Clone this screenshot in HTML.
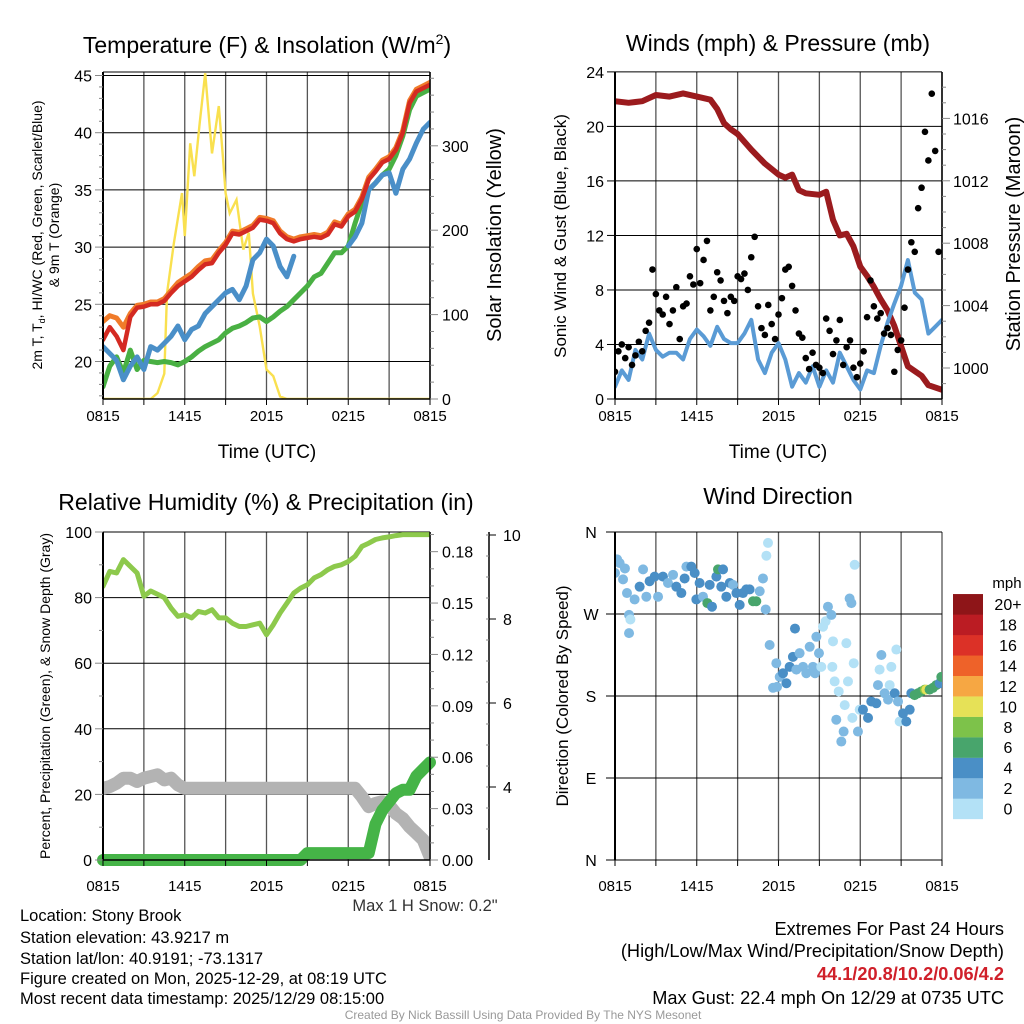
<!DOCTYPE html>
<html><head><meta charset="utf-8"><style>
body{margin:0;background:#fff;}
svg{display:block;font-family:"Liberation Sans",sans-serif;}
</style></head><body>
<svg id="chart" width="1024" height="1024" viewBox="0 0 1024 1024" xmlns="http://www.w3.org/2000/svg">
<defs>
<clipPath id="c1"><rect x="103" y="72" width="327" height="327"/></clipPath>
<clipPath id="c2"><rect x="615" y="72" width="327" height="327"/></clipPath>
<clipPath id="c3"><rect x="103" y="532" width="327" height="328"/></clipPath>
<clipPath id="c4"><rect x="615" y="532" width="327" height="328"/></clipPath>
</defs>
<rect width="1024" height="1024" fill="#fff"/>
<text x="267" y="53" font-size="23" text-anchor="middle">Temperature (F) &amp; Insolation (W/m<tspan font-size="14" dy="-9">2</tspan><tspan dy="9">)</tspan></text>
<text x="778" y="51" font-size="23" text-anchor="middle">Winds (mph) &amp; Pressure (mb)</text>
<text x="266" y="510" font-size="23" text-anchor="middle">Relative Humidity (%) &amp; Precipitation (in)</text>
<text x="778" y="504" font-size="23" text-anchor="middle">Wind Direction</text>
<text x="267" y="458" font-size="19" text-anchor="middle">Time (UTC)</text>
<text x="778" y="458" font-size="19" text-anchor="middle">Time (UTC)</text>
<text transform="translate(42,235) rotate(-90)" font-size="14" text-anchor="middle">2m T, T<tspan font-size="9" dy="3">d</tspan><tspan dy="-3">, HI/WC (Red, Green, Scarlet/Blue)</tspan></text>
<text transform="translate(59,235) rotate(-90)" font-size="14" text-anchor="middle">&amp; 9m T (Orange)</text>
<text transform="translate(501,235) rotate(-90)" font-size="20" text-anchor="middle">Solar Insolation (Yellow)</text>
<text transform="translate(566,236) rotate(-90)" font-size="17" text-anchor="middle">Sonic Wind &amp; Gust (Blue, Black)</text>
<text transform="translate(1020,234) rotate(-90)" font-size="20" text-anchor="middle">Station Pressure (Maroon)</text>
<text transform="translate(50,696) rotate(-90)" font-size="14" text-anchor="middle">Percent, Precipitation (Green), &amp; Snow Depth (Gray)</text>
<text transform="translate(568,696) rotate(-90)" font-size="17" text-anchor="middle">Direction (Colored By Speed)</text>
<g font-size="16.5">
<text x="20" y="921">Location: Stony Brook</text>
<text x="20" y="943">Station elevation: 43.9217 m</text>
<text x="20" y="964">Station lat/lon: 40.9191; -73.1317</text>
<text x="20" y="984">Figure created on Mon, 2025-12-29, at 08:19 UTC</text>
<text x="20" y="1004">Most recent data timestamp: 2025/12/29 08:15:00</text>
<text x="425" y="911" text-anchor="middle" fill="#333">Max 1 H Snow: 0.2"</text>
</g>
<g font-size="18.2">
<text x="1004" y="935" text-anchor="end">Extremes For Past 24 Hours</text>
<text x="1004" y="957" text-anchor="end">(High/Low/Max Wind/Precipitation/Snow Depth)</text>
<text x="1004" y="980" text-anchor="end" fill="#d0202a" font-weight="bold">44.1/20.8/10.2/0.06/4.2</text>
<text x="1004" y="1004" text-anchor="end">Max Gust: 22.4 mph On 12/29 at 0735 UTC</text>
</g>
<text x="523" y="1019" text-anchor="middle" font-size="12" fill="#999">Created By Nick Bassill Using Data Provided By The NYS Mesonet</text>
</svg>
<script>
// ---- Panel 1 data (half-hour steps from 0815 UTC) ----
const tempRed = [21.9,23,22.2,21,23.9,24.7,24.8,25,25,25.3,26,26.6,27,27.4,28,28.5,28.6,29.5,30.2,31.2,31.1,31.4,31.7,32.4,32.3,32.1,31.2,30.7,30.5,30.7,30.8,30.9,30.8,31.1,32,31.8,32.7,33.1,34.2,35.9,36.6,37.4,37.7,38.5,40,42.6,43.6,43.9,44.2];
const tempOrange = [23.5,24,23.8,23,24.2,24.9,25,25.2,25.2,25.5,26.2,26.9,27.3,27.7,28.3,28.8,28.9,29.7,30.4,31.4,31.3,31.6,31.9,32.6,32.5,32.3,31.4,30.9,30.7,30.9,31,31.1,31,31.3,32.2,32,32.9,33.3,34.4,36.1,36.8,37.6,37.9,38.7,40.2,42.8,43.8,44.1,44.4];
const tempGreen = [17.8,19.6,20.4,19,21,19.3,20.1,20,19.9,20,19.9,19.7,20,20.4,20.9,21.3,21.6,21.9,22.5,22.9,23.1,23.4,23.8,23.9,23.5,23.9,24.4,24.8,25.4,26,26.6,27.4,27.7,28.6,29.5,29.5,30.1,32.1,33.9,35,35.6,36.3,36.8,38,39.7,42,43.2,43.5,43.8];
const tempBlue = [21.3,20.7,20.1,18.4,19.6,20.4,19.3,21.3,21,21.6,22.2,23.1,21.9,22.8,23.1,24.2,24.8,25.4,26,26.3,25.4,26.6,28.9,29.5,30.7,30.1,28.3,27.4,29.2,null,null,28.8,null,29.8,null,null,30.1,30.9,32.1,35,35.6,36.3,36.5,34.7,36.8,37.7,39.1,40.3,40.9];
const solarHours = [0,3.5,4,4.5,4.7,5.2,5.8,6,6.4,6.7,7.1,7.5,8,8.5,8.8,9,9.3,9.8,10.3,10.7,11,11.5,12,12.5,13,13.5,24];
const solarValues = [0,0,7,30,125,185,244,193,303,264,327,386,291,347,287,244,220,236,177,197,125,86,35,27,3,0,0];
// ---- Panel 2 data ----
const pressHours = [0,1,2,3,4,5,6,7,7.5,8,8.5,9,10,11,12,12.5,13,13.5,14,15,15.5,16,16.5,17,17.5,18,18.5,19,19.5,20,20.5,21,21.5,22,22.5,23,24];
const pressValues = [1017.1,1017,1017.1,1017.5,1017.4,1017.6,1017.4,1017.2,1016.6,1015.7,1015.3,1015,1014,1013.1,1012.4,1012.2,1012.4,1011.4,1011.2,1011.1,1011.3,1009.5,1008.5,1008.6,1007.8,1006.5,1005.9,1005.2,1004.4,1003.7,1002.7,1001.4,1000.1,999.8,999.5,998.9,998.6];
const windSpeed = [0.9,2.1,1.4,3.6,2.9,4.8,3.6,3.1,3.4,3.4,2.9,4.4,5.1,4.6,3.9,5.3,4.4,4.1,4.1,4.8,5.8,2.9,1.9,3.4,4.1,2.9,0.9,1.9,1.2,2.4,0.9,2.1,1.2,3.4,2.4,1.4,0.7,2.1,1.9,3.9,5.6,7,8.3,10.2,7.8,7.3,4.8,5.3,5.8];
const gustSpeed = [2,3.5,4,3,3.8,2.5,3.2,4.2,3.5,5,5.6,9.5,7.7,6.5,6.2,7.5,5.5,6.5,8.2,4.4,6.8,7,9,8.4,11,8.5,10.2,11.6,6.5,7.5,9.3,8.7,7.2,6.3,7.5,7.2,9,8.8,9.2,8,10.4,11.9,6.8,5.2,4.7,6.9,5.5,4.4,6.2,7.4,9.5,9.7,8.3,6.5,4.8,4.5,3,2.2,3.4,2.5,2.3,1.9,5.9,5,3.3,4.3,5.8,2.5,3.8,4.3,2.3,1.6,2.6,3.5,6,8.7,6.8,5.9,6.3,4.8,5.2,4.7,2,3.6,4.3,6.7,9.5,11.5,10.8,14,15.5,19.6,17.5,22.4,18.2,10.8];
// ---- Panel 3 data (half-hour steps) ----
const rhValues = [83.4,88,87.5,91.6,89.5,87.5,80.4,82,81,80,76.8,74.3,74.8,73.8,75.8,75.3,76.3,73.8,73.8,72.2,71.2,71.2,71.7,72.2,68.7,71.7,75.3,78.3,81.4,82.9,83.9,86,87,88.5,89.5,90,91,92.6,95.6,96.6,97.7,98.2,98.5,98.9,99.2,99.2,99.2,99.2,99.2];
const precipValues = [0,0,0,0,0,0,0,0,0,0,0,0,0,0,0,0,0,0,0,0,0,0,0,0,0,0,0,0,0,0,0.004,0.004,0.004,0.004,0.004,0.004,0.004,0.004,0.004,0.004,0.021,0.029,0.034,0.039,0.041,0.041,0.049,0.053,0.057];
const snowValues = [3.97,4.01,4.09,4.21,4.21,4.13,4.21,4.25,4.29,4.17,4.21,4.05,3.97,3.97,3.97,3.97,3.97,3.97,3.97,3.97,3.97,3.97,3.97,3.97,3.97,3.97,3.97,3.97,3.97,3.97,3.97,3.97,3.97,3.97,3.97,3.97,3.97,3.97,3.77,3.53,3.61,3.65,3.57,3.37,3.25,3.05,2.9,2.74,2.34];
// ---- Panel 4 data ----
const dirHours = [0,0.15,0.34,0.59,0.73,0.88,1.03,1.13,1.03,1.44,1.81,2.06,2.3,2.54,2.91,3.16,3.52,3.89,4.26,4.5,4.87,5.11,5.24,5.6,5.85,5.97,6.21,6.46,6.78,6.95,7.12,7.44,7.56,7.8,7.93,8.17,8.42,8.66,8.91,9.15,9.39,9.64,9.88,10.13,10.37,10.62,10.86,11.06,11.11,11.23,
11.35,11.6,11.84,11.89,12.09,12.33,12.58,12.82,13.06,13.21,13.31,13.55,13.8,14.04,14.29,14.53,14.68,14.78,14.97,15.14,15.27,15.46,15.63,15.88,16,15.95,16.12,16.24,16.42,16.61,16.78,16.86,16.98,17.1,17.22,17.35,17.42,17.52,17.59,17.83,17.96,18.2,18.57,18.81,19.18,19.3,19.42,19.55,19.79,20.04,20.16,20.28,20.53,20.65,20.77,20.89,21.14,21.38,21.63,21.75,21.99,22.24,22.48,22.73,22.85,23.09,23.34,23.58,23.83,23.95];
const dirDegrees = [315,330,326,308,320,293,269,264,249,286,300,319,289,306,311,289,311,304,313,300,293,309,322,322,315,286,304,289,282,302,278,311,319,300,319,289,304,302,293,280,293,297,297,284,284,295,309,275,334,348,
236,189,216,190,201,205,194,212,223,254,209,227,212,205,234,212,205,245,227,212,256,262,278,269,240,212,196,154,185,130,141,170,238,196,287,282,156,216,324,141,165,165,156,174,172,192,209,225,183,176,192,212,183,231,174,152,161,152,165,183,181,183,185,187,187,187,189,192,194,201,199];
const dirSpeeds = [2,2,2,2,2,2,2,1,2,2,4,3,2,4,4,2,4,3,2,4,4,4,3,4,4,4,4,3,6,4,4,4,6,4,4,4,4,3,4,4,4,4,4,6,6,3,3,3,1,1,
3,2,3,3,3,4,4,4,4,4,3,3,3,3,3,2,3,2,2,1,1,1,2,3,1,1,1,3,1,3,3,1,1,1,2,2,1,1,1,2,1,4,4,4,4,3,1,3,3,3,1,1,4,1,3,1,4,4,4,4,6,6,7,8,10,7,6,6,4,6];
const barColors = ["#b3e1f6","#7fb9e2","#4a8fc6","#48a56c","#7dc24a","#e6e157","#f6a743","#ee6229","#dc3127","#bb1c23","#8e1518"];
const barLabels = ["0","2","4","6","8","10","12","14","16","18","20+"];
const timeLabels = ["0815","1415","2015","0215","0815"];

const NS = "http://www.w3.org/2000/svg";
const svg = document.getElementById('chart');
function mk(tag, attrs, parent){const e=document.createElementNS(NS,tag);for(const k in attrs)e.setAttribute(k,attrs[k]);(parent||svg).appendChild(e);return e;}
function txt(x,y,s,anchor,size){const e=mk('text',{x:x,y:y,'font-size':size||15,'text-anchor':anchor||'middle'});e.textContent=s;return e;}

const x1 = t => 103 + t*13.625;
const x2 = t => 615 + t*13.625;
const yT = v => 361.5 - (v-20)*11.44;
const yS = w => 399 - w*0.844;
const yW = v => 399 - v*13.63;
const yP = p => 368 - (p-1000)*15.6;
const yR = v => 860 - v*3.28;
const yPr = p => 860 - p*1713;
const ySn = s => 787 - (s-4)*42;
const yD = d => 860 - d*0.9111;

function pathFrom(xs, ys){let d='';let pen=false;for(let i=0;i<xs.length;i++){if(ys[i]==null||isNaN(ys[i])){pen=false;continue;}d+=(pen?'L':'M')+xs[i].toFixed(1)+','+ys[i].toFixed(1);pen=true;}return d;}
function series(vals, xf, yf, color, w, clip, name){
  const xs=vals.map((v,i)=>xf(i*0.5)); const ys=vals.map(v=>v==null?null:yf(v));
  const p=mk('path',{d:pathFrom(xs,ys),fill:'none',stroke:color,'stroke-width':w,'stroke-linejoin':'round','stroke-linecap':'round','clip-path':'url(#'+clip+')'});
  
  
  return p;
}
function grid(x0,y0,h,xf,hLines,name){
  const g=mk('g',{});
  
  
  for(let t=0;t<=24;t+=3){mk('line',{x1:xf(t),x2:xf(t),y1:y0,y2:y0+h,stroke:'#555','stroke-width':1.3},g);}
  hLines.forEach(y=>mk('line',{x1:x0,x2:x0+327,y1:y,y2:y,stroke:'#000','stroke-width':1},g));
}
function xTicks(xf,yb,ylab,name){
  const g=mk('g',{});
  
  
  for(let t=0;t<=24;t+=3){mk('line',{x1:xf(t),x2:xf(t),y1:yb,y2:yb+6,stroke:'#000'},g);}
  timeLabels.forEach((s,i)=>{const e=txt(xf(i*6),ylab,s,'middle',15);g.appendChild(e);});
}

// ===== Panel 1 =====
grid(103,72,327,x1,[20,25,30,35,40,45].map(yT).concat([72]),'temp-grid');
{const xs=solarHours.map(x1), ys=solarValues.map(yS);
 const p=mk('path',{d:pathFrom(xs,ys),fill:'none',stroke:'#f9e04f','stroke-width':2.4,'clip-path':'url(#c1)'});
 
 }
series(tempGreen,x1,yT,'#49b043',5,'c1','dewpoint-line');
series(tempBlue,x1,yT,'#4a8fc8',5,'c1','windchill-line');
series(tempOrange,x1,yT,'#f07b2a',5,'c1','temp-9m-line');
series(tempRed,x1,yT,'#d42a22',4.5,'c1','temp-2m-line');
{const g=mk('g',{});
 
 
 mk('line',{x1:103,x2:103,y1:72,y2:399,stroke:'#000','stroke-width':2},g);
 mk('line',{x1:430,x2:430,y1:72,y2:399,stroke:'#000','stroke-width':1.5},g);
 mk('line',{x1:103,x2:430,y1:399,y2:399,stroke:'#000','stroke-width':1.5},g);
 for(let v=17;v<=45;v++){mk('line',{x1:v%5?99:95,x2:103,y1:yT(v),y2:yT(v),stroke:'#888'},g);}
 [20,25,30,35,40,45].forEach(v=>g.appendChild(txt(92,yT(v)+6,String(v),'end',16)));
 for(let w=0;w<=380;w+=20){mk('line',{x1:430,x2:w%100?434:438,y1:yS(w),y2:yS(w),stroke:'#888'},g);}
 [0,100,200,300].forEach(v=>g.appendChild(txt(442,yS(v)+6,String(v),'start',16)));}
xTicks(x1,399,421,'temp-x-axis');

// ===== Panel 2 =====
grid(615,72,327,x2,[0,4,8,12,16,20,24].map(yW),'wind-grid');
{const xs=pressHours.map(x2), ys=pressValues.map(yP);
 const p=mk('path',{d:pathFrom(xs,ys),fill:'none',stroke:'#9b1b1e','stroke-width':6,'stroke-linejoin':'round','stroke-linecap':'round','clip-path':'url(#c2)'});
 
 }
series(windSpeed,x2,yW,'#5a9bd5',4,'c2','wind-speed-line');
{const g=mk('g',{'clip-path':'url(#c2)'});
 
 
 gustSpeed.forEach((v,i)=>{const c=mk('circle',{cx:x2(i*0.25),cy:yW(v),r:3.3,fill:'#000'},g);
  
  });}
{const g=mk('g',{});
 
 
 mk('line',{x1:615,x2:615,y1:72,y2:399,stroke:'#000','stroke-width':2},g);
 mk('line',{x1:942,x2:942,y1:72,y2:399,stroke:'#000','stroke-width':1.5},g);
 mk('line',{x1:615,x2:942,y1:399,y2:399,stroke:'#000','stroke-width':1.5},g);
 for(let v=0;v<=24;v+=4){mk('line',{x1:607,x2:615,y1:yW(v),y2:yW(v),stroke:'#000'},g);g.appendChild(txt(604,yW(v)+6,String(v),'end',16));}
 for(let p=999;p<=1018;p++){mk('line',{x1:942,x2:p%4?946:950,y1:yP(p),y2:yP(p),stroke:'#888'},g);}
 [1000,1004,1008,1012,1016].forEach(v=>g.appendChild(txt(953,yP(v)+6,String(v),'start',16)));}
xTicks(x2,399,421,'wind-x-axis');

// ===== Panel 3 =====
grid(103,532,328,x1,[0,20,40,60,80,100].map(yR),'rh-grid');
series(snowValues,x1,ySn,'#b3b3b3',13,'c3','snow-depth-line');
series(rhValues,x1,yR,'#8dc94c',5,'c3','rh-line');
{const xs=precipValues.map((v,i)=>x1(i*0.5)), ys=precipValues.map(yPr);
 const p=mk('path',{d:pathFrom(xs,ys),fill:'none',stroke:'#45b447','stroke-width':12,'stroke-linejoin':'round','stroke-linecap':'round'});
 
 }
{const g=mk('g',{});
 
 
 mk('line',{x1:103,x2:103,y1:532,y2:860,stroke:'#000','stroke-width':2},g);
 mk('line',{x1:430,x2:430,y1:532,y2:860,stroke:'#000','stroke-width':1.5},g);
 mk('line',{x1:103,x2:430,y1:860,y2:860,stroke:'#000','stroke-width':1.5},g);
 for(let v=0;v<=100;v+=10){mk('line',{x1:v%20?99:95,x2:103,y1:yR(v),y2:yR(v),stroke:'#888'},g);}
 [0,20,40,60,80,100].forEach(v=>g.appendChild(txt(92,yR(v)+6,String(v),'end',16)));
 for(let k=0;k<=19;k++){const p=k*0.01;mk('line',{x1:430,x2:k%3?434:438,y1:yPr(p),y2:yPr(p),stroke:'#888'},g);}
 ["0.00","0.03","0.06","0.09","0.12","0.15","0.18"].forEach((s,i)=>g.appendChild(txt(442,yPr(i*0.03)+6,s,'start',16)));
 mk('line',{x1:489,x2:489,y1:532,y2:860,stroke:'#000','stroke-width':1.5},g);
 for(let s=3;s<=10;s+=0.5){mk('line',{x1:486,x2:489,y1:ySn(s),y2:ySn(s),stroke:'#888'},g);}
 [4,6,8,10].forEach(v=>{mk('line',{x1:489,x2:496,y1:ySn(v),y2:ySn(v),stroke:'#000'},g);g.appendChild(txt(503,ySn(v)+6,String(v),'start',16));});}
xTicks(x1,860,891,'rh-x-axis');

// ===== Panel 4 =====
grid(615,532,328,x2,[0,90,180,270,360].map(yD),'direction-grid');
{const g=mk('g',{'clip-path':'url(#c4)'});
 
 
 dirHours.forEach((t,i)=>{const col=barColors[Math.min(10,Math.floor(dirSpeeds[i]/2))];
  const c=mk('circle',{cx:x2(t),cy:yD(dirDegrees[i]),r:5,fill:col},g);
  
  });}
{const g=mk('g',{});
 
 
 mk('line',{x1:615,x2:615,y1:532,y2:860,stroke:'#000','stroke-width':2},g);
 ["N","E","S","W","N"].forEach((s,i)=>{mk('line',{x1:606,x2:615,y1:yD(i*90),y2:yD(i*90),stroke:'#000'},g);g.appendChild(txt(591,yD(i*90)+6,s,'middle',16));});}
xTicks(x2,860,891,'direction-x-axis');
{const g=mk('g',{});
 
 
 barColors.forEach((c,i)=>{const y=819-(i+1)*20.45;
  const r=mk('rect',{x:953,y:y,width:30,height:20.6,fill:c},g);
  
  
  g.appendChild(txt(1008,y+16,barLabels[i],'middle',16));});
 g.appendChild(txt(1007,588,'mph','middle',15));}
</script>
</body></html>
